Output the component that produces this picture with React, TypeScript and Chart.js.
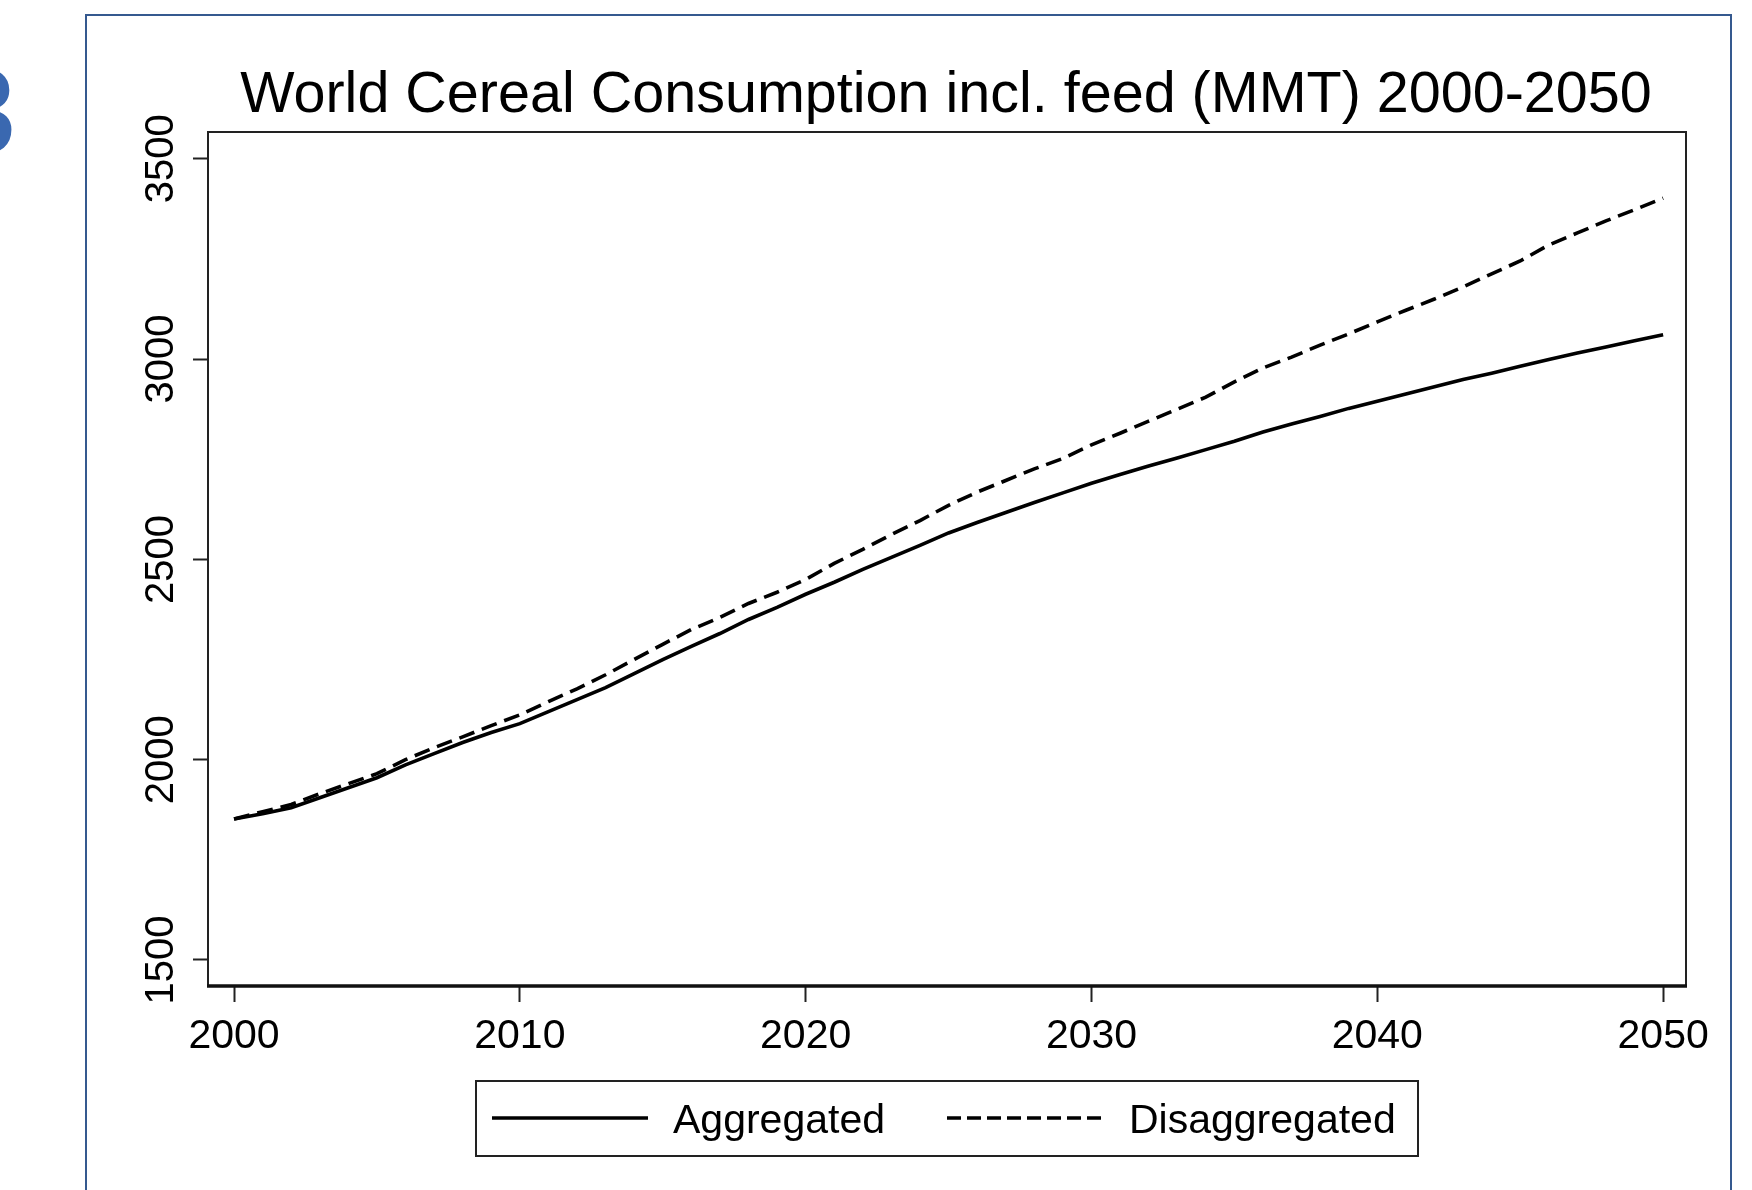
import React, { useEffect, useRef } from "react";
import { Chart, registerables } from "chart.js";

Chart.register(...registerables);

const TITLE = "World Cereal Consumption incl. feed (MMT) 2000-2050";
const seriesLabels = ["Aggregated", "Disaggregated"];

const years = [
  2000, 2001, 2002, 2003, 2004, 2005, 2006, 2007, 2008, 2009,
  2010, 2011, 2012, 2013, 2014, 2015, 2016, 2017, 2018, 2019,
  2020, 2021, 2022, 2023, 2024, 2025, 2026, 2027, 2028, 2029,
  2030, 2031, 2032, 2033, 2034, 2035, 2036, 2037, 2038, 2039,
  2040, 2041, 2042, 2043, 2044, 2045, 2046, 2047, 2048, 2049,
  2050,
];

const aggregated = [
  1852, 1865, 1880, 1905, 1930, 1955, 1987, 2015, 2043, 2068,
  2090, 2120, 2150, 2180, 2215, 2250, 2283, 2315, 2350, 2380,
  2413, 2443, 2475, 2505, 2535, 2566, 2592, 2617, 2642, 2666,
  2690, 2712, 2733, 2753, 2774, 2795, 2818, 2838, 2857, 2877,
  2895, 2913, 2931, 2949, 2965, 2982, 2999, 3015, 3030, 3046,
  3061,
];

const disaggregated = [
  1852, 1870, 1888, 1915, 1940, 1965, 2000, 2030, 2057, 2085,
  2112, 2145, 2177, 2212, 2250, 2288, 2325, 2355, 2390, 2418,
  2450, 2490, 2525, 2562, 2597, 2635, 2668, 2697, 2726, 2752,
  2786, 2815, 2845, 2875, 2905, 2943, 2978, 3005, 3035, 3063,
  3093, 3122, 3150, 3180, 3213, 3245, 3285, 3315, 3345, 3373,
  3402,
];

const xTickValues = [2000, 2010, 2020, 2030, 2040, 2050];
const yTickValues = [1500, 2000, 2500, 3000, 3500];

const FONT = '"Liberation Sans", Arial, Helvetica, sans-serif';

const decorPlugin = {
  id: "decor",
  beforeDraw(chart: any) {
    const ctx = chart.ctx as CanvasRenderingContext2D;
    ctx.save();
    ctx.fillStyle = "#ffffff";
    ctx.fillRect(0, 0, chart.width, chart.height);
    // slide frame
    ctx.strokeStyle = "#35598F";
    ctx.lineWidth = 2;
    ctx.strokeRect(86, 15, 1645, 1400);
    // partial slide number
    ctx.fillStyle = "#3A68B0";
    ctx.font = `bold 120px ${FONT}`;
    ctx.textAlign = "left";
    ctx.textBaseline = "alphabetic";
    ctx.fillText("3", -51, 153);
    ctx.restore();
  },
  afterDraw(chart: any) {
    const ctx = chart.ctx as CanvasRenderingContext2D;
    const a = chart.chartArea;
    const yScale = chart.scales.y;
    ctx.save();
    // plot region outline
    ctx.strokeStyle = "#222222";
    ctx.lineWidth = 2;
    ctx.beginPath();
    ctx.moveTo(a.left, a.bottom);
    ctx.lineTo(a.left, a.top);
    ctx.lineTo(a.right, a.top);
    ctx.lineTo(a.right, a.bottom);
    ctx.stroke();
    ctx.strokeStyle = "#111111";
    ctx.lineWidth = 3.5;
    ctx.beginPath();
    ctx.moveTo(a.left - 1, a.bottom);
    ctx.lineTo(a.right + 1, a.bottom);
    ctx.stroke();

    // y tick labels (rotated)
    ctx.fillStyle = "#000000";
    ctx.font = `40px ${FONT}`;
    ctx.textAlign = "center";
    ctx.textBaseline = "alphabetic";
    for (const v of yTickValues) {
      const py = yScale.getPixelForValue(v);
      ctx.save();
      ctx.translate(a.left - 35, py);
      ctx.rotate(-Math.PI / 2);
      ctx.fillText(String(v), 0, 0);
      ctx.restore();
    }

    // title
    ctx.font = `57.5px ${FONT}`;
    ctx.textAlign = "center";
    ctx.fillText(TITLE, (a.left + a.right) / 2 - 1, 112);

    // legend
    ctx.strokeStyle = "#222222";
    ctx.lineWidth = 2;
    ctx.strokeRect(476, 1081, 942, 75);
    ctx.strokeStyle = "#000000";
    ctx.lineWidth = 3.4;
    ctx.beginPath();
    ctx.moveTo(492, 1118);
    ctx.lineTo(648, 1118);
    ctx.stroke();
    ctx.setLineDash([14, 6]);
    ctx.beginPath();
    ctx.moveTo(947, 1118);
    ctx.lineTo(1105, 1118);
    ctx.stroke();
    ctx.setLineDash([]);
    ctx.font = `41px ${FONT}`;
    ctx.textAlign = "left";
    ctx.fillText(seriesLabels[0], 673, 1133);
    ctx.fillText(seriesLabels[1], 1129, 1133);
    ctx.restore();
  },
};

export default function App() {
  const canvasRef = useRef<HTMLCanvasElement | null>(null);

  useEffect(() => {
    if (!canvasRef.current) return;
    const chart = new Chart(canvasRef.current, {
      type: "line",
      data: {
        datasets: [
          {
            label: seriesLabels[0],
            data: years.map((x, i) => ({ x, y: aggregated[i] })),
            borderColor: "#000000",
            borderWidth: 3.6,
            pointRadius: 0,
            tension: 0,
            fill: false,
          },
          {
            label: seriesLabels[1],
            data: years.map((x, i) => ({ x, y: disaggregated[i] })),
            borderColor: "#000000",
            borderWidth: 3.6,
            borderDash: [16, 8],
            pointRadius: 0,
            tension: 0,
            fill: false,
          },
        ],
      },
      options: {
        responsive: false,
        maintainAspectRatio: false,
        devicePixelRatio: 1,
        animation: false,
        layout: { padding: { top: 132, right: 66, left: 0, bottom: 0 } },
        plugins: {
          legend: { display: false },
          title: { display: false },
          tooltip: { enabled: false },
        },
        scales: {
          x: {
            type: "linear",
            min: 1999.09,
            max: 2050.8,
            afterBuildTicks: (scale: any) => {
              scale.ticks = xTickValues.map((v) => ({ value: v }));
            },
            afterFit: (scale: any) => {
              scale.height = 204;
            },
            border: { display: false },
            grid: {
              drawOnChartArea: false,
              drawTicks: true,
              tickLength: 16,
              tickWidth: 2,
              tickColor: "#222222",
              color: "#222222",
            },
            ticks: {
              autoSkip: false,
              maxRotation: 0,
              minRotation: 0,
              padding: 10,
              color: "#000000",
              font: { family: FONT, size: 41 },
              callback: (v: any) => String(v),
            },
          },
          y: {
            type: "linear",
            min: 1435,
            max: 3567,
            afterBuildTicks: (scale: any) => {
              scale.ticks = yTickValues.map((v) => ({ value: v }));
            },
            afterFit: (scale: any) => {
              scale.width = 208;
            },
            border: { display: false },
            grid: {
              drawOnChartArea: false,
              drawTicks: true,
              tickLength: 15,
              tickWidth: 2,
              tickColor: "#222222",
              color: "#222222",
            },
            ticks: { display: false },
          },
        },
      },
      plugins: [decorPlugin],
    } as any);
    return () => chart.destroy();
  }, []);

  return (
    <div style={{ position: "absolute", left: 0, top: 0, width: 1752, height: 1190 }}>
      <canvas ref={canvasRef} width={1752} height={1190} style={{ display: "block" }} />
    </div>
  );
}
